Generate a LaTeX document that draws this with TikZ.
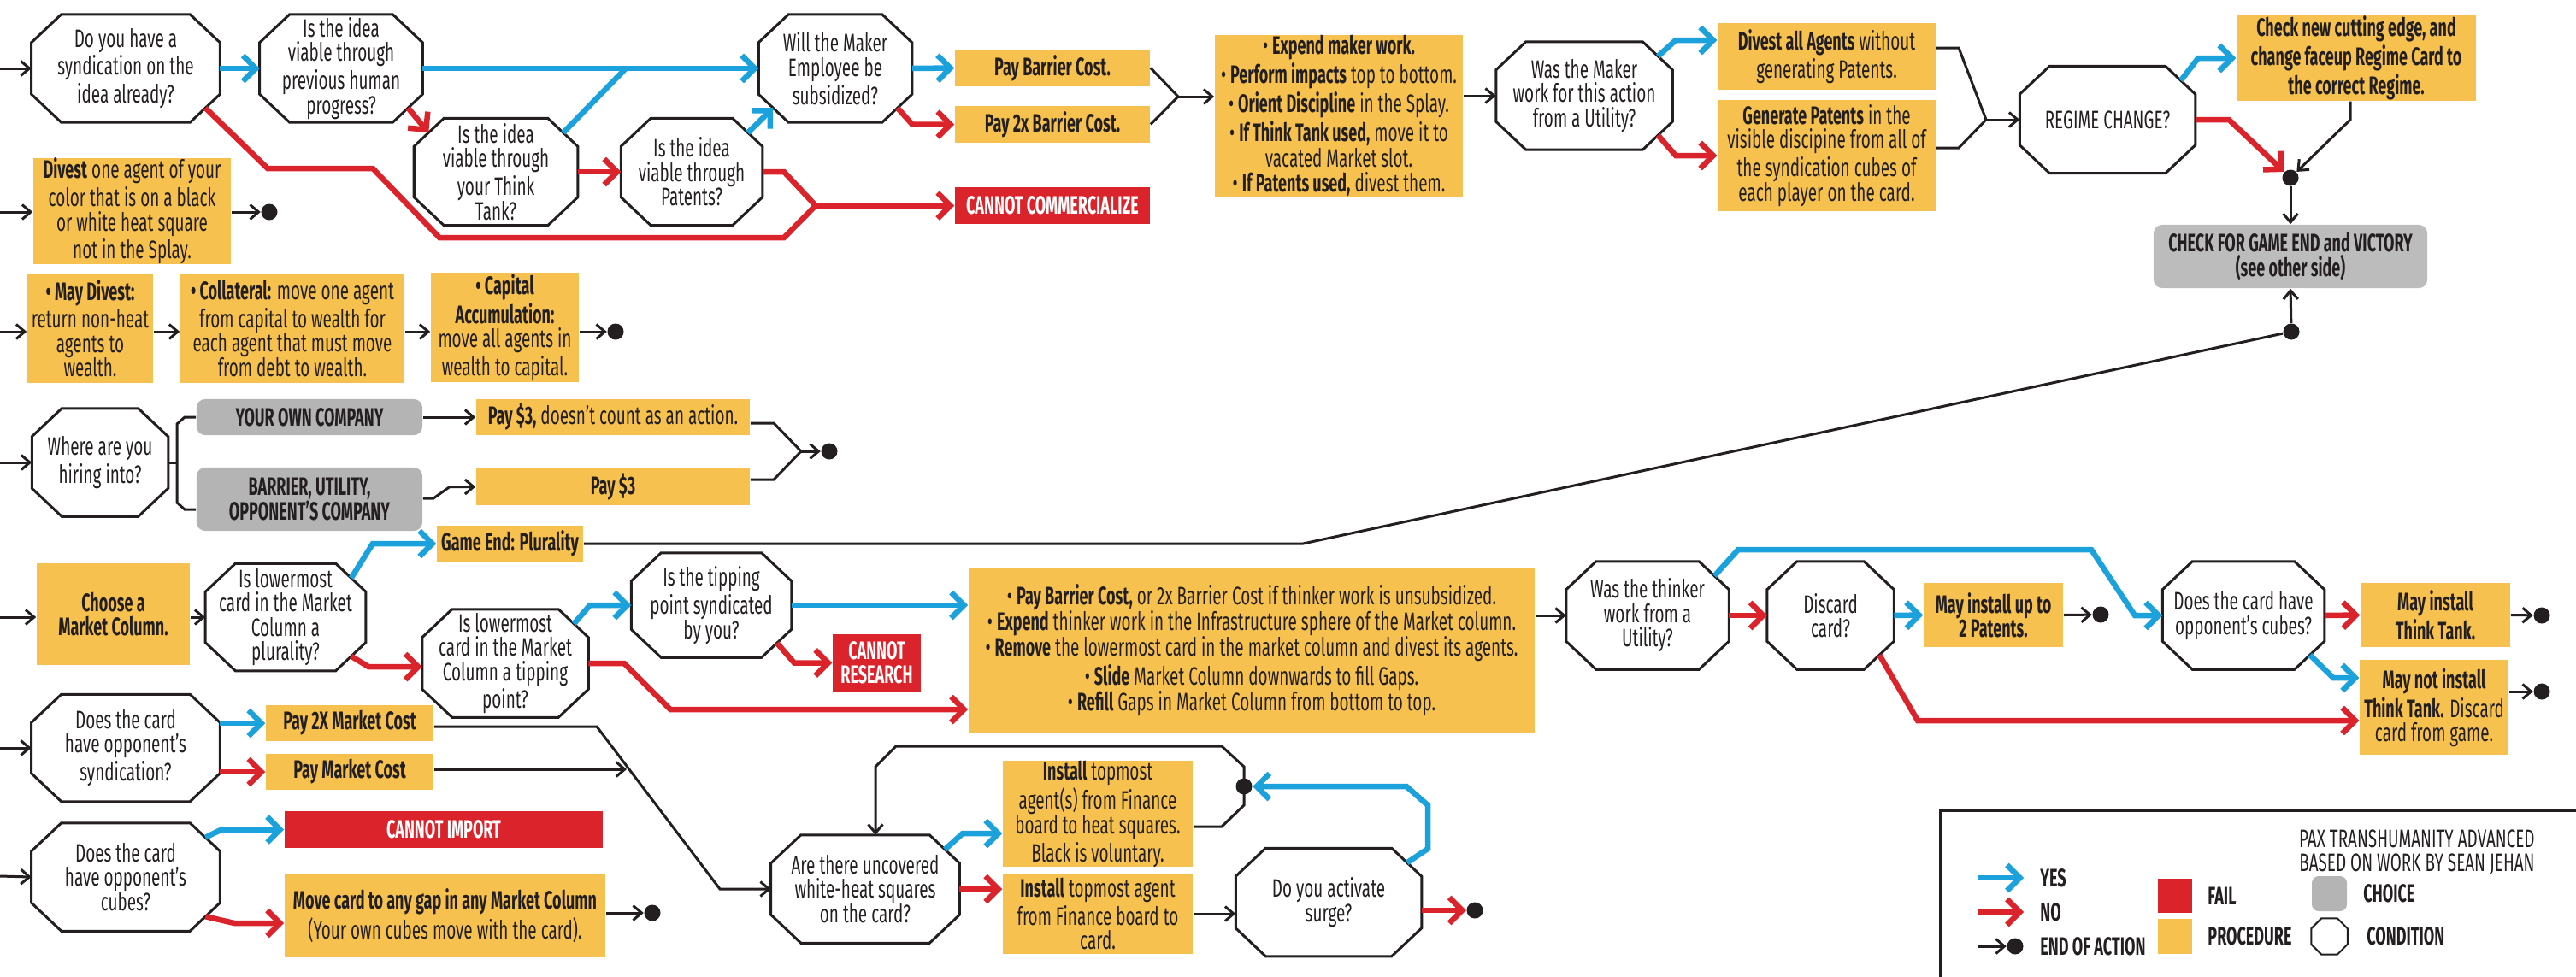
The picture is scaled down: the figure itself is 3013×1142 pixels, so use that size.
\documentclass[tikz,border=0pt]{standalone}
\usepackage{fontspec}
\setmainfont{Fira Sans}[FakeStretch=0.64, BoldFeatures={FakeStretch=0.61}]
\usetikzlibrary{arrows.meta}
\newcommand\basefont{\fontsize{8.4pt}{8.1pt}\selectfont}
\definecolor{cproc}{RGB}{246,193,78}
\definecolor{cfail}{RGB}{218,35,42}
\definecolor{cyes}{RGB}{27,161,219}
\definecolor{cchoice}{RGB}{180,180,180}
\definecolor{ccheck}{RGB}{188,188,188}
\definecolor{cdark}{RGB}{35,31,32}
\tikzset{
  txt/.style={font=\basefont},
  btxt/.style={font=\basefont\bfseries},
  sz/.style 2 args={minimum width=#1cm, minimum height=#2cm},
  proc/.style={fill=cproc, inner sep=0pt, align=center, text=cdark, txt},
  procb/.style={proc, btxt},
  fail/.style={fill=cfail, inner sep=0pt, align=center, text=white, btxt},
  choice/.style={fill=cchoice, rounded corners=0.1cm, inner sep=0pt, align=center, text=cdark, btxt},
  cond/.style={inner sep=0pt, align=center, text=cdark, txt},
  octline/.style={draw=cdark, line width=0.03cm, line join=miter},
  yesline/.style={draw=cyes, line width=0.065cm},
  noline/.style={draw=cfail, line width=0.065cm},
  yes/.style={yesline, -{Straight Barb[length=0.15cm,width=0.3cm]}},
  no/.style={noline, -{Straight Barb[length=0.15cm,width=0.3cm]}},
  link/.style={draw=cdark, line width=0.03cm},
  flow/.style={link, -{Straight Barb[length=0.1cm,width=0.17cm]}},
  enddot/.style={circle, fill=cdark, inner sep=0pt, minimum size=0.19cm},
}
% condition node: octagon outline drawn round a plain text node
\newcommand\condnode[6]{%
  \node[cond, sz={#4}{#5}] (#1) at (#2,#3) {#6};
  \draw[octline] ([xshift=0.35cm]#1.north west) -- ([xshift=-0.35cm]#1.north east)
    -- ([yshift=-0.33cm]#1.north east) -- ([yshift=0.33cm]#1.south east)
    -- ([xshift=-0.35cm]#1.south east) -- ([xshift=0.35cm]#1.south west)
    -- ([yshift=0.33cm]#1.south west) -- ([yshift=-0.33cm]#1.north west) -- cycle;}
\begin{document}
\begin{tikzpicture}[x=0.01cm, y=-0.01cm]
\useasboundingbox (0,0) rectangle (3013,1142);

% ---------- commercialize ----------
\condnode{qSynd}{147}{80}{2.19}{1.25}{Do you have a\\syndication on the\\idea already?}
\condnode{qHuman}{399}{80}{1.89}{1.25}{Is the idea\\viable through\\previous human\\progress?}
\condnode{qTank}{580}{201}{1.90}{1.24}{Is the idea\\viable through\\your Think\\Tank?}
\condnode{qPat}{809}{201}{1.64}{1.24}{Is the idea\\viable through\\Patents?}
\condnode{qSubs}{977}{80}{1.78}{1.25}{Will the Maker\\Employee be\\subsidized?}
\node[procb, sz={2.28}{0.43}] (pBarrier) at (1231,79.5) {Pay Barrier Cost.};
\node[procb, sz={2.28}{0.43}] (pBarrier2) at (1231,145.5) {Pay 2x Barrier Cost.};
\node[fail, sz={2.28}{0.43}] (fComm) at (1231,240.5) {CANNOT COMMERCIALIZE};
\node[proc, sz={2.90}{1.85}, font=\fontsize{8.4pt}{8.3pt}\selectfont] (pMaker) at (1566,135.5)
  {• \textbf{Expend maker work.}\\• \textbf{Perform impacts} top to bottom.\\• \textbf{Orient Discipline} in the Splay.\\• \textbf{If Think Tank used,} move it to\\vacated Market slot.\\• \textbf{If Patents used,} divest them.};
\condnode{qUtilM}{1853}{112}{2.05}{1.25}{Was the Maker\\work for this action\\from a Utility?}
\node[proc, sz={2.55}{0.78}] (pDivAll) at (2136.5,66) {\textbf{Divest all Agents} without\\generating Patents.};
\node[proc, sz={2.55}{1.30}] (pGenPat) at (2136.5,182) {\textbf{Generate Patents} in the\\visible discipine from all of\\the syndication cubes of\\each player on the card.};
\condnode{qRegime}{2465}{140}{2.04}{1.24}{REGIME CHANGE?}
\node[procb, sz={2.80}{1.00}] (pRegime) at (2756,68) {Check new cutting edge, and\\change faceup Regime Card to\\the correct Regime.};
\node[enddot] (dRegime) at (2679,208) {};
\node[choice, fill=ccheck, sz={3.20}{0.74}] (cCheck) at (2679,300) {CHECK FOR GAME END and VICTORY\\(see other side)};
\node[enddot] (dGame) at (2680,388) {};

\coordinate (in1) at (0,80);
\draw[flow] (in1) -- (qSynd.west);
\draw[yes] (qSynd.east) -- (qHuman.west);
\draw[yes] (qHuman.east) -- (qSubs.west);
\draw[no] ([shift={(-17,-17)}]qHuman.south east) -- ([shift={(17,17)}]qTank.north west);
\draw[yesline] ([shift={(-17,17)}]qTank.north east) -- (732,80);
\draw[no] (qTank.east) -- (qPat.west);
\draw[yes] ([shift={(-17,17)}]qPat.north east) -- ([shift={(17,-17)}]qSubs.south west);
\draw[noline] ([shift={(-17,-17)}]qSynd.south east) -- (313,197) -- (436,197) -- (514,278) -- (917,278) -- (954,240.5);
\draw[no] (qPat.east) -- (917,201) -- (954,240.5) -- (fComm.west);
\draw[yes] (qSubs.east) -- (pBarrier.west);
\draw[no] ([shift={(-17,-17)}]qSubs.south east) -- (1067,145.5) -- (pBarrier2.west);
\coordinate (jBar) at (1378,113);
\draw[link] (pBarrier.east) -- (jBar) -- (pBarrier2.east);
\draw[flow] (jBar) -- (jBar -| pMaker.west);
\draw[flow] (pMaker.east |- qUtilM.west) -- (qUtilM.west);
\draw[yes] ([shift={(-17,17)}]qUtilM.north east) -- (1960,47) -- ([shift={(0,-19)}]pDivAll.west);
\draw[no] ([shift={(-17,-17)}]qUtilM.south east) -- (1960,182) -- (pGenPat.west);
\coordinate (jReg) at (2323,140);
\draw[link] ([shift={(0,-10)}]pDivAll.east) -- (2291,56) -- (jReg) -- (2291,173) -- ([shift={(0,-9)}]pGenPat.east);
\draw[flow] (jReg) -- (qRegime.west);
\draw[yes] ([shift={(-17,17)}]qRegime.north east) -- (2571,68) -- (pRegime.west);
\draw[no] (qRegime.east) -- (2607,140) -- (dRegime);
\draw[flow] ([shift={(-7,0)}]pRegime.south) -- (2749,140) -- (dRegime);
\draw[flow] (dRegime) -- (cCheck.north);
\draw[flow] (dGame) -- (cCheck.south);

% ---------- divest ----------
\node[proc, sz={2.31}{1.20}] (pDivest) at (154.5,247) {\textbf{Divest} one agent of your\\color that is on a black\\or white heat square\\not in the Splay.};
\node[enddot] (d1) at (315,248) {};
\coordinate (in2) at (0,248);
\draw[flow] (in2) -- (in2 -| pDivest.west);
\draw[flow] (pDivest.east |- d1) -- (d1);

% ---------- debt ----------
\node[proc, sz={1.47}{1.27}] (pMayDiv) at (105.5,384.5) {\textbf{• May Divest:}\\return non-heat\\agents to\\wealth.};
\node[proc, sz={2.62}{1.27}] (pColl) at (342,384.5) {\textbf{• Collateral:} move one agent\\from capital to wealth for\\each agent that must move\\from debt to wealth.};
\node[proc, sz={1.73}{1.28}] (pCap) at (590.5,383) {\textbf{• Capital}\\\textbf{Accumulation:}\\move all agents in\\wealth to capital.};
\node[enddot] (d2) at (720,388) {};
\coordinate (in3) at (0,388);
\draw[flow] (in3) -- (in3 -| pMayDiv.west);
\draw[flow] (pMayDiv.east |- in3) -- (pColl.west |- in3);
\draw[flow] (pColl.east |- in3) -- (pCap.west |- in3);
\draw[flow] (pCap.east |- in3) -- (d2);

% ---------- hiring ----------
\condnode{qHire}{117}{541}{1.58}{1.25}{Where are you\\hiring into?}
\node[choice, sz={2.64}{0.42}] (cOwn) at (362,488) {YOUR OWN COMPANY};
\node[choice, sz={2.64}{0.74}] (cOther) at (362,584) {BARRIER, UTILITY,\\OPPONENT’S COMPANY};
\node[proc, sz={3.20}{0.42}] (pPay3a) at (717,488) {\textbf{Pay \$3,} doesn’t count as an action.};
\node[procb, sz={3.20}{0.43}] (pPay3b) at (717,569.5) {Pay \$3};
\node[enddot] (d3) at (970,528) {};
\coordinate (in4) at (0,541);
\draw[flow] (in4) -- (qHire.west);
\draw[link] (qHire.east) -- (207,541);
\draw[link] (cOwn.west) -- (216,488) -- (207,496) -- (207,588) -- (216,596) -- ([shift={(0,12)}]cOther.west);
\draw[flow] (cOwn.east) -- (pPay3a.west);
\draw[flow] ([shift={(0,-1)}]cOther.east) -- (507,583) -- (526,569.5) -- (pPay3b.west);
\coordinate (jHire) at (937,528);
\draw[link] ([shift={(0,7)}]pPay3a.east) -- (905,495) -- (jHire) -- (905,561) -- ([shift={(0,-8.5)}]pPay3b.east);
\draw[flow] (jHire) -- (d3);

% ---------- research ----------
\node[procb, sz={1.79}{1.19}] (pMarket) at (132.5,718.5) {Choose a\\Market Column.};
\condnode{qPlur}{334}{722}{1.86}{1.24}{Is lowermost\\card in the Market\\Column a\\plurality?}
\node[procb, sz={1.71}{0.42}] (pGameEnd) at (596.5,636) {Game End: Plurality};
\condnode{qTip}{591}{776}{1.93}{1.25}{Is lowermost\\card in the Market\\Column a tipping\\point?}
\condnode{qSyndYou}{832}{708}{1.86}{1.21}{Is the tipping\\point syndicated\\by you?}
\node[fail, sz={1.03}{0.67}] (fResearch) at (1025.5,775.5) {CANNOT\\RESEARCH};
\node[proc, sz={6.62}{1.93}, font=\fontsize{8.4pt}{8.6pt}\selectfont] (pThinker) at (1464,760.5)
  {• \textbf{Pay Barrier Cost,} or 2x Barrier Cost if thinker work is unsubsidized.\\• \textbf{Expend} thinker work in the Infrastructure sphere of the Market column.\\• \textbf{Remove} the lowermost card in the market column and divest its agents.\\• \textbf{Slide} Market Column downwards to fill Gaps.\\• \textbf{Refill} Gaps in Market Column from bottom to top.};
\condnode{qUtilT}{1927}{720}{1.89}{1.25}{Was the thinker\\work from a\\Utility?}
\condnode{qDiscard}{2141}{720}{1.47}{1.25}{Discard\\card?}
\node[procb, sz={1.63}{0.75}] (pPatents2) at (2331.5,719.5) {May install up to\\2 Patents.};
\node[enddot] (d4) at (2457,719) {};
\condnode{qOppCubes}{2624}{720}{1.88}{1.25}{Does the card have\\opponent’s cubes?}
\node[procb, sz={1.75}{0.75}] (pTankYes) at (2848.5,719.5) {May install\\Think Tank.};
\node[enddot] (d5) at (2973,720) {};
\node[proc, sz={1.74}{1.11}] (pTankNo) at (2847,827.5) {\textbf{May not install}\\\textbf{Think Tank.} Discard\\card from game.};
\node[enddot] (d6) at (2973,809) {};

\coordinate (in5) at (0,722);
\draw[flow] (in5) -- (in5 -| pMarket.west);
\draw[flow] (pMarket.east |- qPlur.west) -- (qPlur.west);
\draw[yes] ([shift={(-17,17)}]qPlur.north east) -- (436,636) -- (pGameEnd.west);
\draw[link] (pGameEnd.east) -- (1524,636) -- (dGame);
\draw[no] ([shift={(-17,-17)}]qPlur.south east) -- (431,780) -- ([shift={(0,4)}]qTip.west);
\draw[yes] ([shift={(-17,17)}]qTip.north east) -- (690,708) -- (qSyndYou.west);
\draw[no] (qTip.east) -- (730,776) -- (784,830) -- ([shift={(0,69.5)}]pThinker.west);
\draw[yes] (qSyndYou.east) -- (pThinker.west |- qSyndYou.east);
\draw[no] ([shift={(-17,-17)}]qSyndYou.south east) -- (929,775.5) -- (fResearch.west);
\draw[flow] (pThinker.east |- qUtilT.west) -- (qUtilT.west);
\draw[no] (qUtilT.east) -- (qDiscard.west);
\draw[yes] (qDiscard.east) -- (pPatents2.west);
\draw[flow] (pPatents2.east) -- (d4);
\draw[yes] ([shift={(-17,17)}]qUtilT.north east) -- (2033,643) -- (2446,643) -- (2497,720) -- (qOppCubes.west);
\draw[no] (qOppCubes.east) -- (pTankYes.west);
\draw[flow] (pTankYes.east) -- (d5);
\draw[yes] ([shift={(-17,-17)}]qOppCubes.south east) -- (2729,793) -- ([shift={(0,-34.5)}]pTankNo.west);
\draw[no] ([shift={(-17,-17)}]qDiscard.south east) -- (2243,843) -- ([shift={(0,15.5)}]pTankNo.west);
\draw[flow] (pTankNo.east |- d6) -- (d6);

% ---------- market / import ----------
\condnode{qOppSynd}{147}{875}{2.19}{1.24}{Does the card\\have opponent’s\\syndication?}
\node[procb, sz={1.96}{0.42}] (pPay2X) at (409,846) {Pay 2X Market Cost};
\node[procb, sz={1.96}{0.42}] (pPayMkt) at (409,903) {Pay Market Cost};
\condnode{qImport}{147}{1026}{2.19}{1.25}{Does the card\\have opponent’s\\cubes?}
\node[fail, sz={3.72}{0.43}] (fImport) at (519,970.5) {CANNOT IMPORT};
\node[proc, sz={3.75}{0.97}] (pMove) at (520.5,1071.5) {\textbf{Move card to any gap in any Market Column}\\(Your own cubes move with the card).};
\node[enddot] (d7) at (763,1068) {};
\condnode{qHeat}{1012}{1040}{2.19}{1.25}{Are there uncovered\\white-heat squares\\on the card?}
\node[proc, sz={2.22}{1.14}] (pHeat) at (1284,952) {\textbf{Install} topmost\\agent(s) from Finance\\board to heat squares.\\Black is voluntary.};
\node[proc, sz={2.22}{0.94}] (pAgent) at (1284,1069) {\textbf{Install} topmost agent\\from Finance board to\\card.};
\condnode{qSurge}{1554}{1055.5}{2.16}{1.25}{Do you activate\\surge?}
\node[enddot] (dLoop) at (1455,920) {};
\node[enddot] (d8) at (1725,1065) {};

\coordinate (in6) at (0,875);
\coordinate (in7) at (0,1025);
\draw[flow] (in6) -- (qOppSynd.west);
\draw[yes] (qOppSynd.east |- pPay2X.west) -- (pPay2X.west);
\draw[no] (qOppSynd.east |- pPayMkt.west) -- (pPayMkt.west);
\draw[flow] ([shift={(0,4)}]pPay2X.east) -- (698,850) -- (842,1040) -- (qHeat.west);
\coordinate (jMkt) at (733,900);
\draw[flow] ([shift={(0,-3)}]pPayMkt.east) -- (jMkt);
\draw[flow] (in7) -- (qImport.west);
\draw[yes] ([shift={(-17,17)}]qImport.north east) -- (259,970.5) -- (fImport.west);
\draw[no] ([shift={(-17,-17)}]qImport.south east) -- (274,1080) -- ([shift={(0,8.5)}]pMove.west);
\draw[flow] (pMove.east |- d7) -- (d7);
\draw[yes] ([shift={(-17,17)}]qHeat.north east) -- (1126,975) -- ([shift={(0,23)}]pHeat.west);
\draw[no] (qHeat.east) -- (pAgent.west |- qHeat.east);
\draw[flow] (pAgent.east) -- (qSurge.west |- pAgent.east);
\draw[link] ([shift={(0,15)}]pHeat.east) -- (1429,967) -- (1455,942) -- (dLoop.center);
\draw[flow] (dLoop.center) -- (1455,897) -- (1429,873) -- (1048,873) -- (1024,897) -- ([shift={(12,0)}]qHeat.north);
\draw[yes] ([shift={(-17,17)}]qSurge.north east) -- (1670,993) -- (1670,942) -- (1645,920) -- (dLoop);
\draw[no] (qSurge.east |- d8) -- (d8);

% ---------- legend ----------
\draw[link, line width=0.035cm] (2270,1160) -- (2270,948) -- (3030,948);
\node[txt, text=cdark, anchor=north east, align=right] (lgTitle) at (2977,958) {PAX TRANSHUMANITY ADVANCED\\BASED ON WORK BY SEAN JEHAN};
\coordinate (lgA) at (2313,1027);
\coordinate (lgB) at (2367,1027);
\draw[yes] (lgA) -- (lgB);
\node[btxt, text=cdark, anchor=west] (lgYes) at (2374,1027) {YES};
\coordinate (lgC) at (2313,1067);
\coordinate (lgD) at (2367,1067);
\draw[no] (lgC) -- (lgD);
\node[btxt, text=cdark, anchor=west] (lgNo) at (2374,1067) {NO};
\coordinate (lgE) at (2313,1107);
\node[enddot] (lgDot) at (2357,1107) {};
\draw[flow] (lgE) -- (lgDot);
\node[btxt, text=cdark, anchor=west] (lgEnd) at (2374,1107) {END OF ACTION};
\node[fill=cfail, inner sep=0pt, sz={0.40}{0.40}] (lgFail) at (2544,1048) {};
\node[btxt, text=cdark, anchor=west] (lgFailT) at (2570,1048) {FAIL};
\node[fill=cproc, inner sep=0pt, sz={0.40}{0.41}] (lgProc) at (2544,1095.5) {};
\node[btxt, text=cdark, anchor=west] (lgProcT) at (2570,1095) {PROCEDURE};
\node[fill=cchoice, rounded corners=0.08cm, inner sep=0pt, sz={0.41}{0.41}] (lgChoice) at (2724.5,1045.5) {};
\node[btxt, text=cdark, anchor=west] (lgChoiceT) at (2752,1045) {CHOICE};
\node[inner sep=0pt, sz={0.41}{0.41}] (lgCond) at (2724.5,1095.5) {};
\draw[draw=cdark, line width=0.02cm] ([xshift=0.12cm]lgCond.north west) -- ([xshift=-0.12cm]lgCond.north east)
  -- ([yshift=-0.12cm]lgCond.north east) -- ([yshift=0.12cm]lgCond.south east)
  -- ([xshift=-0.12cm]lgCond.south east) -- ([xshift=0.12cm]lgCond.south west)
  -- ([yshift=0.12cm]lgCond.south west) -- ([yshift=-0.12cm]lgCond.north west) -- cycle;
\node[btxt, text=cdark, anchor=west] (lgCondT) at (2756,1095) {CONDITION};
\end{tikzpicture}
\end{document}
